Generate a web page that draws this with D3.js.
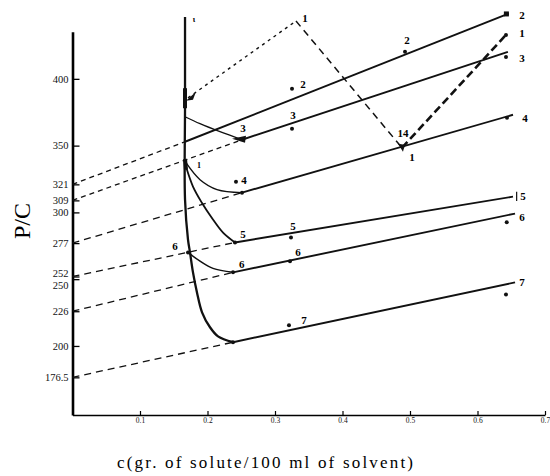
<!DOCTYPE html>
<html><head><meta charset="utf-8">
<script src="https://cdn.jsdelivr.net/npm/d3@7"></script>
<style>body{margin:0;background:#fff}svg{display:block}</style>
</head><body>
<svg id="c" width="550" height="476"></svg>
<script>
// ---- data ----
const xTicks = [0.1, 0.2, 0.3, 0.4, 0.5, 0.6, 0.7];
const xTickLabels = ["0.1", "0.2", "0.3", "0.4", "0.5", "0.6", "0.7"];
const yTicks = [400, 350, 321, 309, 300, 277, 252, 250, 226, 200, 176.5];
const yTickLabels = ["400", "350", "321", "309", "300", "277", "252", "250", "226", "200", "176.5"];

// straight-line series 2..7: intercept at c=0, minimum (start of solid part), end
const seriesNames = ["2", "3", "4", "5", "6", "7"];
const interceptP = [321, 309, 277, 252, 226, 176.5];
const minC = [0.1667, 0.2511, 0.2511, 0.2407, 0.2378, 0.2378];
const minP = [352.9, 354.4, 314.8, 277.5, 255.1, 202.8];
const endC = [0.645, 0.645, 0.6526, 0.6526, 0.6556, 0.6556];
const endP = [448.6, 420.2, 373.1, 311.8, 299.1, 247.6];

// curved low-concentration branches
const curve3C = [0.1667, 0.1889, 0.2185, 0.2511];
const curve3P = [371.6, 366.4, 360.4, 354.4];
const curve4C = [0.1681, 0.1889, 0.2141, 0.2511];
const curve4P = [337.2, 324.5, 317.1, 314.8];
const curve5C = [0.1681, 0.1785, 0.1914, 0.2081, 0.2230, 0.2407];
const curve5P = [334.3, 319.3, 307.4, 294.7, 284.9, 277.5];
const curve6C = [0.1711, 0.1889, 0.2081, 0.2378];
const curve6P = [270.0, 263.5, 258.1, 255.1];
const curve7C = [0.1667, 0.1667, 0.1667, 0.1711, 0.1741, 0.1785, 0.1844, 0.1919, 0.2037, 0.2156, 0.2378];
const curve7P = [446.3, 380.0, 309.6, 279.7, 270.0, 255.1, 240.1, 225.2, 214.0, 207.2, 202.8];

// series 1 (dashed zig-zag)
const s1C = [0.1711, 0.3311, 0.4881, 0.6422];
const s1P = [385.8, 443.3, 348.4, 432.9];

// measured points
const ptC = [0.3252, 0.4926, 0.3252, 0.2422, 0.3237, 0.3222, 0.3207, 0.6437, 0.6422, 0.6422, 0.6437, 0.6433, 0.6422, 0.2407, 0.2378, 0.2378, 0.2511, 0.1711];
const ptP = [392.5, 420.2, 362.6, 323.0, 281.2, 263.5, 215.5, 448.6, 432.9, 416.4, 370.9, 292.6, 238.6, 277.5, 255.1, 202.8, 314.8, 270.0];

// text labels on the plot
const lblText = ["2", "1", "3", "4", "5", "6", "7", "1", "2", "2", "3", "3", "14", "1", "4", "5", "5", "6", "6", "6", "7", "1", "ι"];
const lblC = [0.6659, 0.6659, 0.6659, 0.6704, 0.6674, 0.6659, 0.6659, 0.3444, 0.3415, 0.4956, 0.3267, 0.2526, 0.4896, 0.5030, 0.2541, 0.2526, 0.3267, 0.2507, 0.3341, 0.1519, 0.3430, 0.1874, 0.1800];
const lblP = [447.9, 434.4, 415.7, 370.9, 311.8, 296.1, 247.6, 445.6, 396.3, 429.1, 373.1, 363.4, 359.7, 341.7, 324.5, 283.5, 289.4, 261.0, 270.0, 274.5, 219.2, 335.7, 444.5];

// ---- drawing ----
const svg = d3.select("#c");
const serif = "'Liberation Serif','DejaVu Serif',serif";
const x = d3.scaleLinear().domain([0, 0.7]).range([72.5, 545]);
const y = d3.scaleLinear().domain([148.3, 435.3]).range([415, 31.7]);
const line = d3.line().x(d => x(d[0])).y(d => y(d[1]));
const cline = d3.line().x(d => x(d[0])).y(d => y(d[1])).curve(d3.curveCatmullRom.alpha(0.5));
const zip = (a, b) => a.map((v, i) => [v, b[i]]);

// x axis
const gx = svg.append("g").attr("transform", "translate(0,415)")
  .call(d3.axisBottom(x).tickValues(xTicks).tickFormat((d, i) => xTickLabels[i])
    .tickSize(-4).tickSizeOuter(0).tickPadding(3));
gx.select(".domain").attr("stroke-width", 1.6);
gx.selectAll(".tick line").attr("stroke-width", 1.2);
gx.selectAll("text").attr("font-family", serif).attr("font-size", 7.5).attr("fill", "#111");

// y axis
const gy = svg.append("g").attr("transform", "translate(72.5,0)")
  .call(d3.axisLeft(y).tickValues(yTicks).tickFormat((d, i) => yTickLabels[i])
    .tickSize(-7).tickSizeOuter(0).tickPadding(4));
gy.select(".domain").attr("stroke-width", 2.6);
gy.selectAll(".tick line").attr("stroke-width", 1.3);
gy.selectAll("text").attr("font-family", serif).attr("font-size", 10.5).attr("fill", "#111")
  .attr("transform", d => d === 252 ? "translate(0,-3)" : d === 250 ? "translate(0,6)" : null);

// axis titles
svg.append("text").attr("x", 265).attr("y", 468).attr("text-anchor", "middle")
  .attr("font-family", serif).attr("font-size", 17).attr("textLength", 296).attr("lengthAdjust", "spacing")
  .text("c(gr. of solute/100 ml of solvent)");
svg.append("text").attr("transform", "translate(30,221) rotate(-90)").attr("text-anchor", "middle")
  .attr("font-family", serif).attr("font-size", 24).text("P/C");

// series 2..7 straight lines
seriesNames.forEach((s, i) => {
  svg.append("path").attr("d", line([[0, interceptP[i]], [minC[i], minP[i]]]))
    .attr("fill", "none").attr("stroke", "#111").attr("stroke-width", 1.3)
    .attr("stroke-dasharray", i < 2 ? "5,4" : "7,5");
  svg.append("path").attr("d", line([[minC[i], minP[i]], [endC[i], endP[i]]]))
    .attr("fill", "none").attr("stroke", "#111").attr("stroke-width", 1.9);
});

// curved branches
[[curve3C, curve3P, 1.3], [curve4C, curve4P, 1.4], [curve5C, curve5P, 1.8], [curve6C, curve6P, 1.5], [curve7C, curve7P, 2.3]]
  .forEach(([cc, pp, w]) => {
    svg.append("path").attr("d", cline(zip(cc, pp))).attr("fill", "none")
      .attr("stroke", "#111").attr("stroke-width", w);
  });

// series 1
const s1 = zip(s1C, s1P);
svg.append("path").attr("d", line(s1.slice(0, 2))).attr("fill", "none").attr("stroke", "#111")
  .attr("stroke-width", 1.4).attr("stroke-dasharray", "3,4");
svg.append("path").attr("d", line(s1.slice(1, 3))).attr("fill", "none").attr("stroke", "#111")
  .attr("stroke-width", 1.5).attr("stroke-dasharray", "7,5");
svg.append("path").attr("d", line(s1.slice(2, 4))).attr("fill", "none").attr("stroke", "#111")
  .attr("stroke-width", 2.6).attr("stroke-dasharray", "8,4");

// points
svg.selectAll("circle.pt").data(zip(ptC, ptP)).join("circle").attr("class", "pt")
  .attr("cx", d => x(d[0])).attr("cy", d => y(d[1])).attr("r", 2).attr("fill", "#111");

// arrow heads / blobs
function tri(px, py, pts) {
  svg.append("path").attr("d", "M" + pts.map(p => (px + p[0]) + "," + (py + p[1])).join("L") + "Z").attr("fill", "#111");
}
tri(x(minC[1]), y(minP[1]), [[-10, -1], [4, -4], [3, 3]]);
tri(x(s1C[0]), y(s1P[0]), [[-2, 3], [8, -6], [5, 2]]);
tri(x(s1C[2]), y(s1P[2]), [[-4, -4], [3, -3], [1, 4]]);
svg.append("path").attr("d", line([[0.1667, 393], [0.1667, 378]])).attr("stroke", "#111").attr("stroke-width", 4);
svg.append("path").attr("d", line([[0.1667, 340], [0.1681, 332]])).attr("stroke", "#111").attr("stroke-width", 4);
svg.append("rect").attr("x", x(endC[0]) - 4).attr("y", y(endP[0]) - 2.5).attr("width", 5).attr("height", 5).attr("fill", "#111");
// end bar on series 5
svg.append("path").attr("d", line([[0.658, 315.5], [0.658, 308.5]])).attr("stroke", "#111").attr("stroke-width", 1.2);

// labels
svg.selectAll("text.lbl").data(lblText).join("text").attr("class", "lbl")
  .attr("x", (d, i) => x(lblC[i])).attr("y", (d, i) => y(lblP[i])).attr("dy", "0.35em")
  .attr("text-anchor", "middle").attr("font-family", serif).attr("font-weight", "bold")
  .attr("font-size", (d, i) => i >= 21 ? 8 : 11).text(d => d);
</script>
</body></html>
